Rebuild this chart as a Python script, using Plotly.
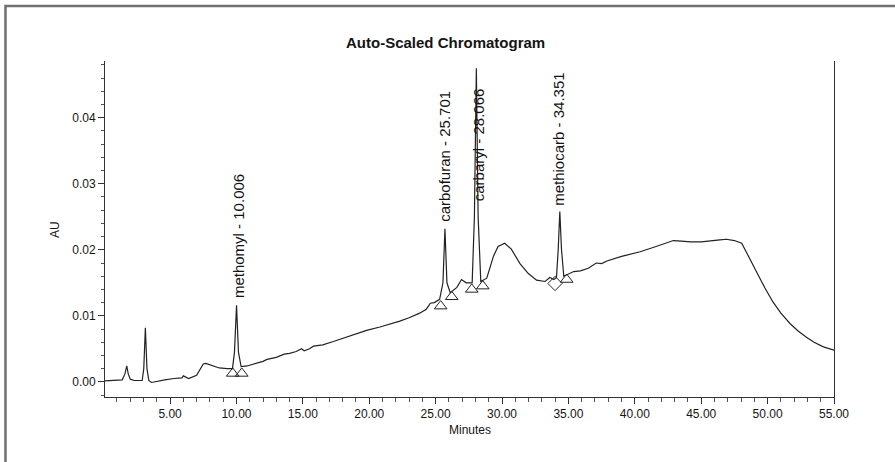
import plotly.graph_objects as go

# Chromatogram trace (minutes, AU)
time_min = [0.1, 0.8, 1.4, 1.6, 1.74, 1.85, 2.0, 2.3, 2.9, 3.02, 3.14, 3.26, 3.4, 3.6, 4.0,
            4.6, 5.3, 5.9, 6.0, 6.15, 6.4, 7.0, 7.25, 7.5, 7.7, 8.1, 8.7, 9.3, 9.7, 9.85,
            10.006, 10.15, 10.35, 10.8, 11.5, 12.0, 12.3, 13.0, 13.6, 14.0, 14.5, 14.9, 15.1,
            15.5, 15.8, 16.5, 17.3, 18.0, 18.8, 19.8, 20.8, 21.5, 22.3, 23.0, 23.8, 24.3,
            24.6, 24.9, 25.3, 25.55, 25.701, 25.85, 26.1, 26.6, 26.95, 27.3, 27.75, 27.92,
            28.066, 28.2, 28.4, 28.85, 29.35, 29.7, 30.2, 30.7, 31.35, 31.98, 32.6, 33.24,
            33.6, 33.9, 34.1, 34.23, 34.351, 34.48, 34.65, 35.4, 35.9, 36.5, 37.1, 37.5,
            37.9, 39.0, 40.4, 41.6, 42.3, 42.9, 43.5, 44.2, 45.0, 45.7, 46.4, 46.9, 47.5,
            48.05, 48.6, 49.2, 49.8, 50.4, 51.0, 51.7, 52.3, 52.9, 53.5, 54.2, 55.0]
absorbance = [0.00015, 0.0002, 0.0003, 0.0012, 0.0024, 0.0012, 0.0004, 0.0002, 0.0002, 0.002,
              0.0082, 0.002, 0.0002, -0.0001, 0.0001, 0.0003, 0.0005, 0.0006, 0.0009, 0.0007,
              0.0005, 0.0010, 0.0019, 0.0027, 0.0028, 0.0025, 0.0021, 0.0020, 0.0020, 0.0045,
              0.0116, 0.0045, 0.0023, 0.0024, 0.0028, 0.0031, 0.0034, 0.0037, 0.0042, 0.0043,
              0.0046, 0.0050, 0.0047, 0.0050, 0.0054, 0.0056, 0.0061, 0.0066, 0.0071, 0.0078,
              0.0083, 0.0087, 0.0092, 0.0097, 0.0104, 0.0110, 0.0119, 0.0120, 0.0125, 0.015,
              0.0232, 0.015, 0.0135, 0.0143, 0.0155, 0.0150, 0.0150, 0.025, 0.0475, 0.025,
              0.0152, 0.0157, 0.0190, 0.0205, 0.0210, 0.0201, 0.0179, 0.0164, 0.0154, 0.0152,
              0.0158, 0.0155, 0.0158, 0.020, 0.0258, 0.020, 0.0160, 0.0167, 0.0168, 0.0172,
              0.0180, 0.0179, 0.0183, 0.0190, 0.0197, 0.0205, 0.0210, 0.0214, 0.0213, 0.0212,
              0.0212, 0.0213, 0.0215, 0.0216, 0.0214, 0.0210, 0.0188, 0.0164, 0.0142, 0.0121,
              0.0104, 0.0088, 0.0077, 0.0068, 0.0060, 0.0053, 0.0048]

# Integration baseline markers
tri_time = [9.72, 10.40, 25.38, 26.21, 27.72, 28.55, 34.87]
tri_au = [0.00127, 0.00127, 0.01147, 0.01288, 0.0140, 0.0145, 0.0155]
dia_time = [33.99]
dia_au = [0.0149]

# Peak labels
peak_names = ["methomyl - 10.006", "carbofuran - 25.701", "carbaryl - 28.066", "methiocarb - 34.351"]
label_time = [10.2, 25.7, 28.2, 34.3]
label_au = [0.0124, 0.0240, 0.0270, 0.0263]

x_ticks = [5, 10, 15, 20, 25, 30, 35, 40, 45, 50, 55]
y_ticks = [0.0, 0.01, 0.02, 0.03, 0.04]

FONT = "Arial, 'Liberation Sans', sans-serif"
INK = "#141414"
LINE = "#222222"

fig = go.Figure()
fig.add_trace(go.Scatter(x=time_min, y=absorbance, mode="lines",
                         line=dict(color=LINE, width=1.2), showlegend=False))
fig.add_trace(go.Scatter(x=tri_time, y=tri_au, mode="markers",
                         marker=dict(symbol="triangle-up-open", size=11, color=LINE,
                                     line=dict(color=LINE, width=1)),
                         showlegend=False))
fig.add_trace(go.Scatter(x=dia_time, y=dia_au, mode="markers",
                         marker=dict(symbol="diamond-open", size=11, color=LINE,
                                     line=dict(color=LINE, width=1)),
                         showlegend=False))

for name, t, a in zip(peak_names, label_time, label_au):
    fig.add_annotation(x=t, y=a, text=name, textangle=-90, showarrow=False,
                       xanchor="center", yanchor="bottom",
                       font=dict(family=FONT, size=15, color=INK))

fig.add_annotation(x=0.467, y=1.0545, xref="paper", yref="paper",
                   text="<b>Auto-Scaled Chromatogram</b>", showarrow=False,
                   xanchor="center", yanchor="middle",
                   font=dict(family=FONT, size=15, color=INK))
fig.add_annotation(x=-0.0686, y=0.5, xref="paper", yref="paper", text="AU",
                   textangle=-90, showarrow=False, xanchor="center", yanchor="middle",
                   font=dict(family=FONT, size=12, color=INK))
fig.add_annotation(x=0.5007, y=-0.098, xref="paper", yref="paper", text="Minutes",
                   showarrow=False, xanchor="center", yanchor="middle",
                   font=dict(family=FONT, size=12, color=INK))

# outer frame of the page
fig.add_shape(type="rect", xref="paper", yref="paper", x0=-0.1365, y0=-2, x1=2, y1=1.1637,
              line=dict(color="#707070", width=2.5), fillcolor="rgba(0,0,0,0)", layer="below")

fig.update_layout(
    width=895, height=462,
    margin=dict(l=105, r=61, t=61, b=65),
    paper_bgcolor="white", plot_bgcolor="white",
    font=dict(family=FONT, size=12, color=INK),
    showlegend=False,
)
fig.update_xaxes(range=[0.1, 55.0], tickvals=x_ticks, tickformat=".2f",
                 showgrid=False, zeroline=False, showline=True, linecolor="#333", linewidth=1,
                 ticks="outside", ticklen=6, tickcolor="#333", tickwidth=1,
                 tickfont=dict(family=FONT, size=12, color=INK),
                 minor=dict(dtick=1, tick0=0, ticks="outside", ticklen=4, tickcolor="#555", showgrid=False))
fig.update_yaxes(range=[-0.0023, 0.0486], tickvals=y_ticks, tickformat=".2f",
                 showgrid=False, zeroline=False, showline=True, linecolor="#333", linewidth=1,
                 mirror=True,
                 ticks="outside", ticklen=6, tickcolor="#333", tickwidth=1,
                 tickfont=dict(family=FONT, size=12, color=INK),
                 minor=dict(dtick=0.002, tick0=0, ticks="outside", ticklen=3, tickcolor="#555", showgrid=False))

fig.write_html("out.html", config={"displayModeBar": False},
               post_script="document.body.style.margin='0';")
